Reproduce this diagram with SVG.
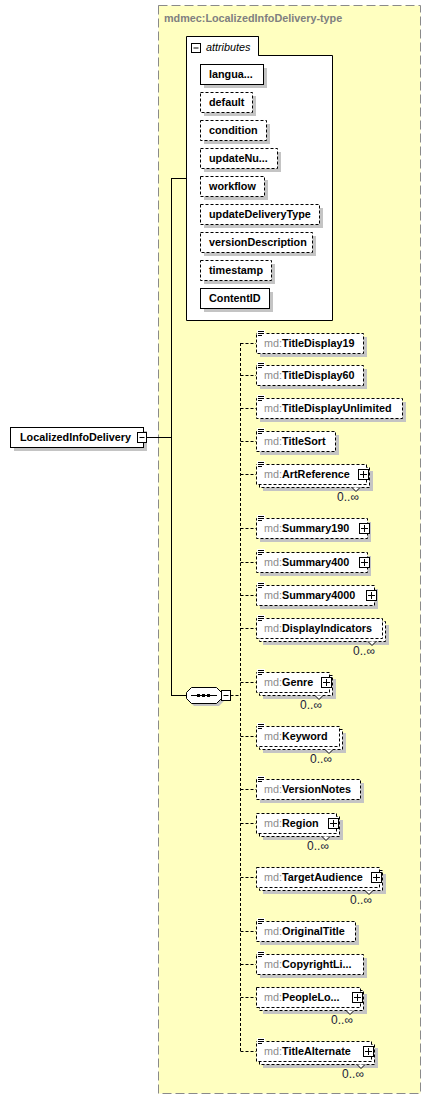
<svg xmlns="http://www.w3.org/2000/svg" xmlns:xlink="http://www.w3.org/1999/xlink" width="431" height="1099" viewBox="0 0 431 1099">
<style>
.t{font-family:"Liberation Sans",Arial,sans-serif;font-size:10.8px;fill:#000}
.b{font-weight:bold}
.p{fill:#8c8c8c}
.sh{fill:#c4c4c4}
.box{fill:#fff;stroke:#000;stroke-width:1}
.eb{fill:#fff;stroke:#000;stroke-width:1;stroke-dasharray:3,2}
.ln{fill:none;stroke:#000;stroke-width:1}
.dl{fill:none;stroke:#000;stroke-width:1;stroke-dasharray:3,2}
.occ{font-family:"Liberation Sans",Arial,sans-serif;font-size:12px;fill:#1a1a3a;text-anchor:end}
</style>
<defs>
<g id="ic"><rect x="0" y="-3" width="8" height="7" fill="#fff"/><path d="M1 -1.5h6M1 0.5h6M1 2.5h4" stroke="#000" fill="none"/></g>
<g id="plus"><rect x="0.5" y="-4.5" width="10" height="10" fill="#fff" stroke="#000"/><path d="M2 0.5h7M5.5 -3v7" stroke="#000" fill="none"/></g>
<path id="v" d="M-4 0L0 4L4 0" fill="#fff" stroke="#000"/>
</defs>

<g id="container">
<rect x="158.5" y="5.5" width="262" height="1088" fill="#ffffc0" stroke="#8a8a8a" stroke-dasharray="9,4"/>
<text class="t b" x="164" y="22" style="fill:#808080">mdmec:LocalizedInfoDelivery-type</text>
</g>

<g id="connectors">
<path class="ln" d="M146.5 437.5H171.5M171.5 178V696M171.5 178.5H186.5M171.5 695.5H186.5"/>
<path class="dl" d="M230.5 695.5H240.5M240.5 343V1052"/>
<path class="dl" d="M240.5 343.5H256M240.5 375.5H256M240.5 408.5H256M240.5 441.5H256M240.5 474.5H256M240.5 528.5H256M240.5 562.5H256M240.5 595.5H256M240.5 628.5H256M240.5 682.5H256M240.5 736.5H256M240.5 789.5H256M240.5 823.5H256M240.5 877.5H256M240.5 931.5H256M240.5 964.5H256M240.5 997.5H256M240.5 1051.5H256"/>
</g>

<g id="n-LocalizedInfoDelivery">
<rect class="sh" x="14" y="431" width="133" height="20"/>
<rect class="box" x="10.5" y="427.5" width="133" height="20"/>
<text class="t b" x="20" y="441">LocalizedInfoDelivery</text>
<rect x="137.5" y="432.5" width="9" height="10" fill="#fff" stroke="#000"/>
<path d="M139.5 437.5h5" stroke="#000"/>
</g>

<g id="attributes">
<path d="M186.5 320.5V36.5H258.5V55.5H332.5V320.5Z" fill="#fff" stroke="#000"/>
<path d="M258.5 36.5V55.5" stroke="#000"/>
<rect x="191.5" y="43.5" width="9" height="9" fill="#fff" stroke="#000"/>
<path d="M193.5 48h5" stroke="#000"/>
<text class="t" x="206" y="51" font-style="italic">attributes</text>
</g>

<g id="a-language"><rect class="sh" x="204" y="68" width="63" height="20"/><rect class="box" x="200.5" y="64.5" width="63" height="20"/><text class="t b" x="209" y="78">langua...</text></g>
<g id="a-default"><rect class="sh" x="204" y="96" width="52" height="20"/><rect class="eb" x="200.5" y="92.5" width="52" height="20"/><text class="t b" x="209" y="106">default</text></g>
<g id="a-condition"><rect class="sh" x="204" y="124" width="66" height="20"/><rect class="eb" x="200.5" y="120.5" width="66" height="20"/><text class="t b" x="209" y="134">condition</text></g>
<g id="a-updateNum"><rect class="sh" x="204" y="152" width="77" height="20"/><rect class="eb" x="200.5" y="148.5" width="77" height="20"/><text class="t b" x="209" y="162">updateNu...</text></g>
<g id="a-workflow"><rect class="sh" x="204" y="180" width="64" height="20"/><rect class="eb" x="200.5" y="176.5" width="64" height="20"/><text class="t b" x="209" y="190">workflow</text></g>
<g id="a-updateDeliveryType"><rect class="sh" x="204" y="208" width="119" height="20"/><rect class="eb" x="200.5" y="204.5" width="119" height="20"/><text class="t b" x="209" y="218">updateDeliveryType</text></g>
<g id="a-versionDescription"><rect class="sh" x="204" y="236" width="112" height="20"/><rect class="eb" x="200.5" y="232.5" width="112" height="20"/><text class="t b" x="209" y="246">versionDescription</text></g>
<g id="a-timestamp"><rect class="sh" x="204" y="264" width="71" height="20"/><rect class="eb" x="200.5" y="260.5" width="71" height="20"/><text class="t b" x="209" y="274">timestamp</text></g>
<g id="a-ContentID"><rect class="sh" x="204" y="292" width="69" height="20"/><rect class="box" x="200.5" y="288.5" width="69" height="20"/><text class="t b" x="209" y="302">ContentID</text></g>

<g id="sequence">
<polygon class="sh" points="194,690 219,690 224,695 224,701 219,706 194,706 189,701 189,695"/>
<polygon points="191.5,687.5 216.5,687.5 221.5,692.5 221.5,698.5 216.5,703.5 191.5,703.5 186.5,698.5 186.5,692.5" fill="#fff" stroke="#000"/>
<path d="M191 695.5H217" stroke="#000"/>
<rect x="197" y="694" width="3" height="3"/><rect x="202" y="694" width="3" height="3"/><rect x="207" y="694" width="3" height="3"/>
<rect x="221.5" y="690.5" width="9" height="10" fill="#fff" stroke="#000"/>
<path d="M223.5 695.5h5" stroke="#000"/>
</g>

<g id="n-TitleDisplay19"><rect class="sh" x="260" y="337" width="107" height="20"/><rect class="eb" x="256.5" y="333.5" width="107" height="20"/><use href="#ic" x="257" y="333"/><text class="t" x="264" y="347"><tspan class="p">md:</tspan><tspan class="b">TitleDisplay19</tspan></text></g>
<g id="n-TitleDisplay60"><rect class="sh" x="260" y="369" width="107" height="20"/><rect class="eb" x="256.5" y="365.5" width="107" height="20"/><use href="#ic" x="257" y="365"/><text class="t" x="264" y="379"><tspan class="p">md:</tspan><tspan class="b">TitleDisplay60</tspan></text></g>
<g id="n-TitleDisplayUnlimited"><rect class="sh" x="260" y="402" width="146" height="20"/><rect class="eb" x="256.5" y="398.5" width="146" height="20"/><use href="#ic" x="257" y="398"/><text class="t" x="264" y="412"><tspan class="p">md:</tspan><tspan class="b">TitleDisplayUnlimited</tspan></text></g>
<g id="n-TitleSort"><rect class="sh" x="260" y="435" width="79" height="20"/><rect class="eb" x="256.5" y="431.5" width="79" height="20"/><use href="#ic" x="257" y="431"/><text class="t" x="264" y="445"><tspan class="p">md:</tspan><tspan class="b">TitleSort</tspan></text></g>
<g id="n-ArtReference"><rect class="sh" x="263" y="471" width="110" height="20"/><rect class="eb" x="259.5" y="467.5" width="110" height="20"/><rect class="eb" x="256.5" y="464.5" width="110" height="20"/><use href="#v" x="356" y="487.5"/><use href="#ic" x="257" y="464"/><text class="t" x="264" y="478"><tspan class="p">md:</tspan><tspan class="b">ArtReference</tspan></text><use href="#plus" x="358" y="474"/><text class="occ" x="359" y="501">0..∞</text></g>
<g id="n-Summary190"><rect class="sh" x="260" y="522" width="111" height="20"/><rect class="eb" x="256.5" y="518.5" width="111" height="20"/><use href="#ic" x="257" y="518"/><text class="t" x="264" y="532"><tspan class="p">md:</tspan><tspan class="b">Summary190</tspan></text><use href="#plus" x="359" y="528"/></g>
<g id="n-Summary400"><rect class="sh" x="260" y="556" width="111" height="20"/><rect class="eb" x="256.5" y="552.5" width="111" height="20"/><use href="#ic" x="257" y="552"/><text class="t" x="264" y="566"><tspan class="p">md:</tspan><tspan class="b">Summary400</tspan></text><use href="#plus" x="359" y="562"/></g>
<g id="n-Summary4000"><rect class="sh" x="260" y="589" width="118" height="20"/><rect class="eb" x="256.5" y="585.5" width="118" height="20"/><use href="#ic" x="257" y="585"/><text class="t" x="264" y="599"><tspan class="p">md:</tspan><tspan class="b">Summary4000</tspan></text><use href="#plus" x="366" y="595"/></g>
<g id="n-DisplayIndicators"><rect class="sh" x="263" y="625" width="126" height="20"/><rect class="eb" x="259.5" y="621.5" width="126" height="20"/><rect class="eb" x="256.5" y="618.5" width="126" height="20"/><use href="#v" x="372" y="641.5"/><use href="#ic" x="257" y="618"/><text class="t" x="264" y="632"><tspan class="p">md:</tspan><tspan class="b">DisplayIndicators</tspan></text><text class="occ" x="375" y="655">0..∞</text></g>
<g id="n-Genre"><rect class="sh" x="263" y="679" width="73" height="20"/><rect class="eb" x="259.5" y="675.5" width="73" height="20"/><rect class="eb" x="256.5" y="672.5" width="73" height="20"/><use href="#v" x="319" y="695.5"/><use href="#ic" x="257" y="672"/><text class="t" x="264" y="686"><tspan class="p">md:</tspan><tspan class="b">Genre</tspan></text><use href="#plus" x="321" y="682"/><text class="occ" x="322" y="709">0..∞</text></g>
<g id="n-Keyword"><rect class="sh" x="263" y="733" width="83" height="20"/><rect class="eb" x="259.5" y="729.5" width="83" height="20"/><rect class="eb" x="256.5" y="726.5" width="83" height="20"/><use href="#v" x="329" y="749.5"/><use href="#ic" x="257" y="726"/><text class="t" x="264" y="740"><tspan class="p">md:</tspan><tspan class="b">Keyword</tspan></text><text class="occ" x="332" y="763">0..∞</text></g>
<g id="n-VersionNotes"><rect class="sh" x="260" y="783" width="104" height="20"/><rect class="eb" x="256.5" y="779.5" width="104" height="20"/><use href="#ic" x="257" y="779"/><text class="t" x="264" y="793"><tspan class="p">md:</tspan><tspan class="b">VersionNotes</tspan></text></g>
<g id="n-Region"><rect class="sh" x="263" y="820" width="80" height="20"/><rect class="eb" x="259.5" y="816.5" width="80" height="20"/><rect class="eb" x="256.5" y="813.5" width="80" height="20"/><use href="#v" x="326" y="836.5"/><text class="t" x="264" y="827"><tspan class="p">md:</tspan><tspan class="b">Region</tspan></text><use href="#plus" x="328" y="823"/><text class="occ" x="329" y="850">0..∞</text></g>
<g id="n-TargetAudience"><rect class="sh" x="263" y="874" width="123" height="20"/><rect class="eb" x="259.5" y="870.5" width="123" height="20"/><rect class="eb" x="256.5" y="867.5" width="123" height="20"/><use href="#v" x="369" y="890.5"/><text class="t" x="264" y="881"><tspan class="p">md:</tspan><tspan class="b">TargetAudience</tspan></text><use href="#plus" x="371" y="877"/><text class="occ" x="372" y="904">0..∞</text></g>
<g id="n-OriginalTitle"><rect class="sh" x="260" y="925" width="99" height="20"/><rect class="eb" x="256.5" y="921.5" width="99" height="20"/><use href="#ic" x="257" y="921"/><text class="t" x="264" y="935"><tspan class="p">md:</tspan><tspan class="b">OriginalTitle</tspan></text></g>
<g id="n-CopyrightLine"><rect class="sh" x="260" y="958" width="107" height="20"/><rect class="eb" x="256.5" y="954.5" width="107" height="20"/><use href="#ic" x="257" y="954"/><text class="t" x="264" y="968"><tspan class="p">md:</tspan><tspan class="b">CopyrightLi...</tspan></text></g>
<g id="n-PeopleLocal"><rect class="sh" x="263" y="994" width="104" height="20"/><rect class="eb" x="259.5" y="990.5" width="104" height="20"/><rect class="eb" x="256.5" y="987.5" width="104" height="20"/><use href="#v" x="350" y="1010.5"/><text class="t" x="264" y="1001"><tspan class="p">md:</tspan><tspan class="b">PeopleLo...</tspan></text><use href="#plus" x="352" y="997"/><text class="occ" x="353" y="1024">0..∞</text></g>
<g id="n-TitleAlternate"><rect class="sh" x="263" y="1048" width="115" height="20"/><rect class="eb" x="259.5" y="1044.5" width="115" height="20"/><rect class="eb" x="256.5" y="1041.5" width="115" height="20"/><use href="#v" x="361" y="1064.5"/><use href="#ic" x="257" y="1041"/><text class="t" x="264" y="1055"><tspan class="p">md:</tspan><tspan class="b">TitleAlternate</tspan></text><use href="#plus" x="363" y="1051"/><text class="occ" x="364" y="1078">0..∞</text></g>
</svg>
